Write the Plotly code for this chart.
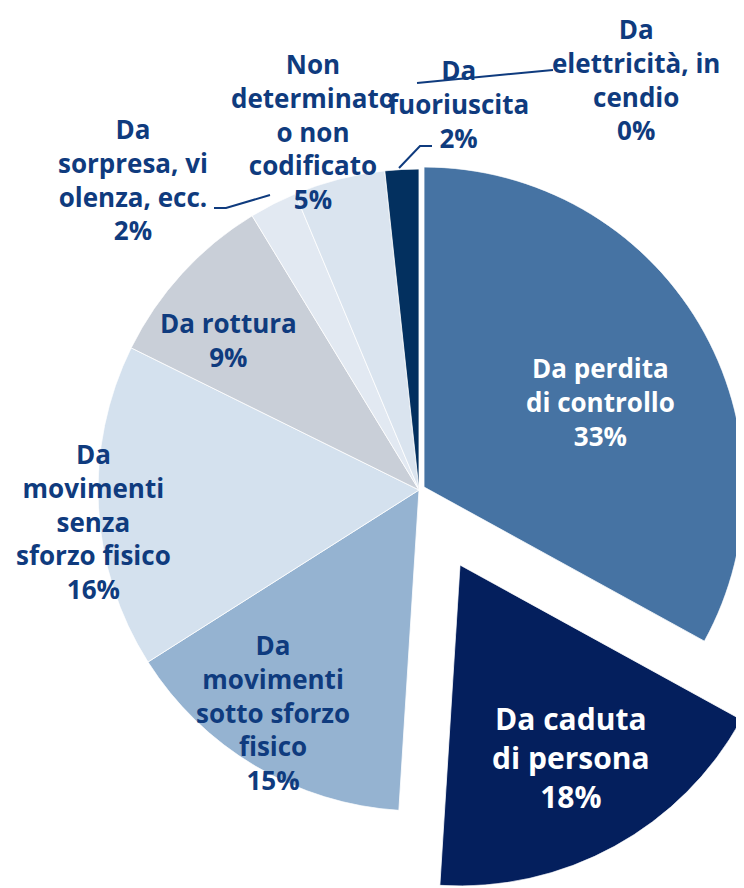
import numpy as np
import plotly.graph_objects as go

# ---------------- data ----------------
categories = [
    "Da perdita di controllo",
    "Da caduta di persona",
    "Da movimenti sotto sforzo fisico",
    "Da movimenti senza sforzo fisico",
    "Da rottura",
    "Da sorpresa, violenza, ecc.",
    "Non determinato o non codificato",
    "Da fuoriuscita",
    "Da elettricità, incendio",
]
values = [33.0, 18.0, 15.0, 16.3, 9.0, 2.4, 4.6, 1.7, 0.0]
label_text = [
    "Da perdita<br>di controllo",
    "Da caduta<br>di persona",
    "Da<br>movimenti<br>sotto sforzo<br>fisico",
    "Da<br>movimenti<br>senza<br>sforzo fisico",
    "Da rottura",
    "Da<br>sorpresa, vi<br>olenza, ecc.",
    "Non<br>determinato<br>o non<br>codificato",
    "Da<br>fuoriuscita",
    "Da<br>elettricità, in<br>cendio",
]
colors = ["#4673A3", "#041F5D", "#95B3D1", "#D4E1EE", "#C9CFD8",
          "#E2E9F2", "#DAE4EF", "#03305F", "#0B2F5E"]

# ---------------- layout parameters ----------------
PAGE_W, PAGE_H = 744, 888
OFF = 8                      # default body margin of the html page
W, H = PAGE_W - OFF, PAGE_H - OFF
TXT = "#0F3B7E"
FONT = "Open Sans"
# slice group -> (apex px on page, radius px)
groups = {
    "polar": ((419, 490), 321),   # unexploded slices
    "polar2": ((424, 487), 320),  # "perdita di controllo" (slightly pulled)
    "polar3": ((460, 565), 321),  # "caduta di persona" (strongly pulled)
}
slice_group = ["polar2", "polar3", "polar", "polar", "polar", "polar", "polar", "polar", "polar"]

# label placement (page px centre of text block), font size, colour
label_pos = [(600, 402), (571, 757), (273, 712), (93, 521), (228, 340),
             (133, 180), (313, 131), (458, 104), (636, 80)]
label_size = [26, 30, 26, 26, 26, 26, 26, 26, 26]
label_color = ["white", "white", TXT, TXT, TXT, TXT, TXT, TXT, TXT]
leaders = [
    [(214, 208), (226, 208), (270, 195)],
    [(432, 146), (420, 146), (399, 168)],
    [(417, 83), (553, 70)],
]


def fx(px):
    return (px - OFF) / W


def fy(py):
    return 1 - (py - OFF) / H


def sector_bbox(sector):
    s0, s1 = sector
    arc = s1 - s0
    a0 = s0 % 360
    a1 = a0 + arc
    c = lambda a: np.cos(np.radians(a))
    s = lambda a: np.sin(np.radians(a))
    ax0, ay0, ax1, ay1 = c(a0), s(a0), c(a1), s(a1)
    if (a0 <= 90 and a1 >= 90) or (a0 > 90 and a1 >= 450):
        y1 = 1
    elif ay0 <= 0 and ay1 <= 0:
        y1 = 0
    else:
        y1 = max(ay0, ay1)
    if (a0 <= 180 and a1 >= 180) or (a0 > 180 and a1 >= 540):
        x0 = -1
    elif ax0 >= 0 and ax1 >= 0:
        x0 = 0
    else:
        x0 = min(ax0, ax1)
    if (a0 <= 270 and a1 >= 270) or (a0 > 270 and a1 >= 630):
        y0 = -1
    elif ay0 >= 0 and ay1 >= 0:
        y0 = 0
    else:
        y0 = min(ay0, ay1)
    if a1 >= 360:
        x1 = 1
    elif ax0 <= 0 and ax1 <= 0:
        x1 = 0
    else:
        x1 = max(ax0, ax1)
    return x0, y0, x1, y1


def domain_for(center, R, sector):
    cx, cy = center
    x0, y0, x1, y1 = sector_bbox(sector)
    px0, px1 = cx + R * x0, cx + R * x1
    ptop, pbot = cy - R * y1, cy - R * y0
    dx = [max(0.0, fx(px0)), min(1.0, fx(px1))]
    dy = [max(0.0, fy(pbot)), min(1.0, fy(ptop))]
    return dict(x=dx, y=dy)


vals = np.array(values, dtype=float)
deg = vals / vals.sum() * 360.0
ends = np.cumsum(deg)
starts = ends - deg
mids = starts + deg / 2

fig = go.Figure()
polar_layouts = {}
for g, (center, R) in groups.items():
    idx = [i for i in range(len(values)) if slice_group[i] == g and values[i] > 0]
    fig.add_trace(go.Barpolar(
        r=[1] * len(idx),
        theta=[mids[i] for i in idx],
        width=[deg[i] for i in idx],
        marker=dict(color=[colors[i] for i in idx], line=dict(color="white", width=0.8)),
        text=[categories[i] for i in idx],
        hoverinfo="text",
        subplot=g,
        showlegend=False,
    ))
    if g == "polar":
        sector = [0, 360]
    else:
        i = idx[0]
        sector = [90 - ends[i] - 0.3, 90 - starts[i] + 0.3]
    polar_layouts[g] = dict(
        domain=domain_for(center, R, sector),
        sector=sector,
        bgcolor="rgba(0,0,0,0)",
        hole=0,
        radialaxis=dict(visible=False, range=[0, 1]),
        angularaxis=dict(visible=False, rotation=90, direction="clockwise"),
    )

annotations = []
for i in range(len(values)):
    x, y = label_pos[i]
    annotations.append(dict(
        x=fx(x), y=fy(y), xref="paper", yref="paper",
        xanchor="center", yanchor="middle", showarrow=False,
        text=f"{label_text[i]}<br>{round(values[i])}%",
        font=dict(family=FONT, size=label_size[i], color=label_color[i], weight="bold"),
        align="center",
    ))

shapes = []
for pts in leaders:
    path = "M " + " L ".join(f"{fx(px):.5f},{fy(py):.5f}" for px, py in pts)
    shapes.append(dict(type="path", path=path, xref="paper", yref="paper",
                       line=dict(color=TXT, width=2)))

fig.update_layout(
    width=W, height=H,
    margin=dict(l=0, r=0, t=0, b=0),
    paper_bgcolor="white", plot_bgcolor="white",
    showlegend=False,
    annotations=annotations,
    shapes=shapes,
    **polar_layouts,
)

fig.write_html("out.html")
